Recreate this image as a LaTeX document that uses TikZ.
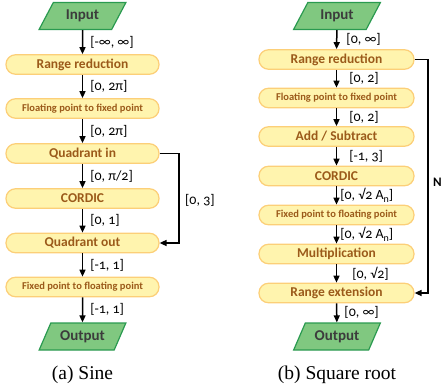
\documentclass[tikz,border=0pt]{standalone}
\usepackage{fontspec}
\setmainfont{Liberation Serif}
\newfontfamily\boxfont{Carlito}
\newfontfamily\lblfont[Numbers=OldStyle]{Carlito}
\usetikzlibrary{shapes.geometric,arrows.meta}
\definecolor{boxfill}{HTML}{FFF4AE}
\definecolor{boxdraw}{HTML}{FCCF78}
\definecolor{boxtext}{HTML}{9B5A1A}
\definecolor{iofill}{HTML}{80C880}
\definecolor{iodraw}{HTML}{2A9A50}
\definecolor{iotext}{HTML}{3C3C3C}
\tikzset{
  proc/.style={draw=boxdraw, fill=boxfill, line width=1.2pt, rounded corners=9.5pt,
    minimum height=19.5pt, inner sep=0pt, text=boxtext,
    font=\boxfont\bfseries\fontsize{13.5}{13.5}\selectfont},
  procL/.style={proc, minimum width=153pt},
  procR/.style={proc, minimum width=155pt},
  smalltext/.style={font=\boxfont\bfseries\fontsize{10.5}{10.5}\selectfont},
  io/.style={trapezium, trapezium left angle=56, trapezium right angle=124,
    trapezium stretches=true, minimum width=87pt, minimum height=27pt,
    draw=iodraw, fill=iofill, line width=1.2pt, text=iotext, inner sep=0pt,
    font=\boxfont\bfseries\fontsize{15}{15}\selectfont},
  arr/.style={-{Triangle[length=7pt,width=6pt]}, line width=1.5pt},
  lbl/.style={anchor=west, font=\lblfont\fontsize{14}{14}\selectfont, inner sep=0pt},
  captiontext/.style={font=\fontsize{19.5}{19.5}\selectfont},
}
\begin{document}
\begin{tikzpicture}[x=1pt,y=-1pt]
\useasboundingbox (0,0) rectangle (442,391);
% ---------- left: sine ----------
\node[io] (ai) at (82.5,16) {Input};
\node[procL] (a1) at (82.5,64.5) {Range reduction};
\node[procL, smalltext] (a2) at (82.5,108.5) {Floating point to fixed point};
\node[procL] (a3) at (82.5,153.5) {Quadrant in};
\node[procL] (a4) at (82.5,198.5) {CORDIC};
\node[procL] (a5) at (82.5,243) {Quadrant out};
\node[procL, smalltext] (a6) at (82.5,287) {Fixed point to floating point};
\node[io] (ao) at (82.5,336.5) {Output};
\draw[arr] (ai) -- (a1) node[lbl, midway, xshift=7pt] {[-∞, ∞]};
\draw[arr] (a1) -- (a2) node[lbl, midway, xshift=7pt] {[0, 2π]};
\draw[arr] (a2) -- (a3) node[lbl, midway, xshift=7pt] {[0, 2π]};
\draw[arr] (a3) -- (a4) node[lbl, midway, xshift=7pt] {[0, π/2]};
\draw[arr] (a4) -- (a5) node[lbl, midway, xshift=7pt] {[0, 1]};
\draw[arr] (a5) -- (a6) node[lbl, midway, xshift=7pt] {[-1, 1]};
\draw[arr] (a6) -- (ao) node[lbl, midway, xshift=7pt] {[-1, 1]};
\coordinate (la) at (179,153.5);
\coordinate (lb) at (179,243);
\draw[arr] (a3.east) -- (la) -- (lb) -- (a5.east);
\node[lbl] (a35) at (185,200) {[0, 3]};
\node[captiontext] (capa) at (82.5,375) {(a) Sine};
% ---------- right: square root ----------
\node[io] (bi) at (337,16) {Input};
\node[procR] (b1) at (336.5,59.5) {Range reduction};
\node[procR, smalltext] (b2) at (336.5,98) {Floating point to fixed point};
\node[procR] (b3) at (336.5,136.5) {Add / Subtract};
\node[procR] (b4) at (336.5,176) {CORDIC};
\node[procR, smalltext] (b5) at (336.5,215) {Fixed point to floating point};
\node[procR] (b6) at (336.5,254) {Multiplication};
\node[procR] (b7) at (336.5,293) {Range extension};
\node[io] (bo) at (337,336.5) {Output};
\draw[arr] (bi) -- (b1) node[lbl, midway, xshift=9pt] {[0, ∞]};
\draw[arr] (b1) -- (b2) node[lbl, midway, xshift=12pt] {[0, 2]};
\draw[arr] (b2) -- (b3) node[lbl, midway, xshift=12pt] {[0, 2]};
\draw[arr] (b3) -- (b4) node[lbl, midway, xshift=12pt] {[-1, 3]};
\draw[arr] (b4) -- (b5) node[lbl, midway, xshift=3pt] {[0, √2 A\raisebox{-0.35ex}{\fontsize{10}{10}\selectfont n}]};
\draw[arr] (b5) -- (b6) node[lbl, midway, xshift=3pt] {[0, √2 A\raisebox{-0.35ex}{\fontsize{10}{10}\selectfont n}]};
\draw[arr] (b6) -- (b7) node[lbl, midway, xshift=15pt] {[0, √2]};
\draw[arr] (b7) -- (bo) node[lbl, midway, xshift=7pt] {[0, ∞]};
\coordinate (ra) at (428,59.5);
\coordinate (rb) at (428,293);
\draw[arr] (b1.east) -- (ra) -- (rb) -- (b7.east);
\node[lbl, font=\lblfont\bfseries\fontsize{13}{13}\selectfont] (rn) at (433,182) {N};
\node[captiontext] (capb) at (337,375) {(b) Square root};
\end{tikzpicture}
\end{document}
